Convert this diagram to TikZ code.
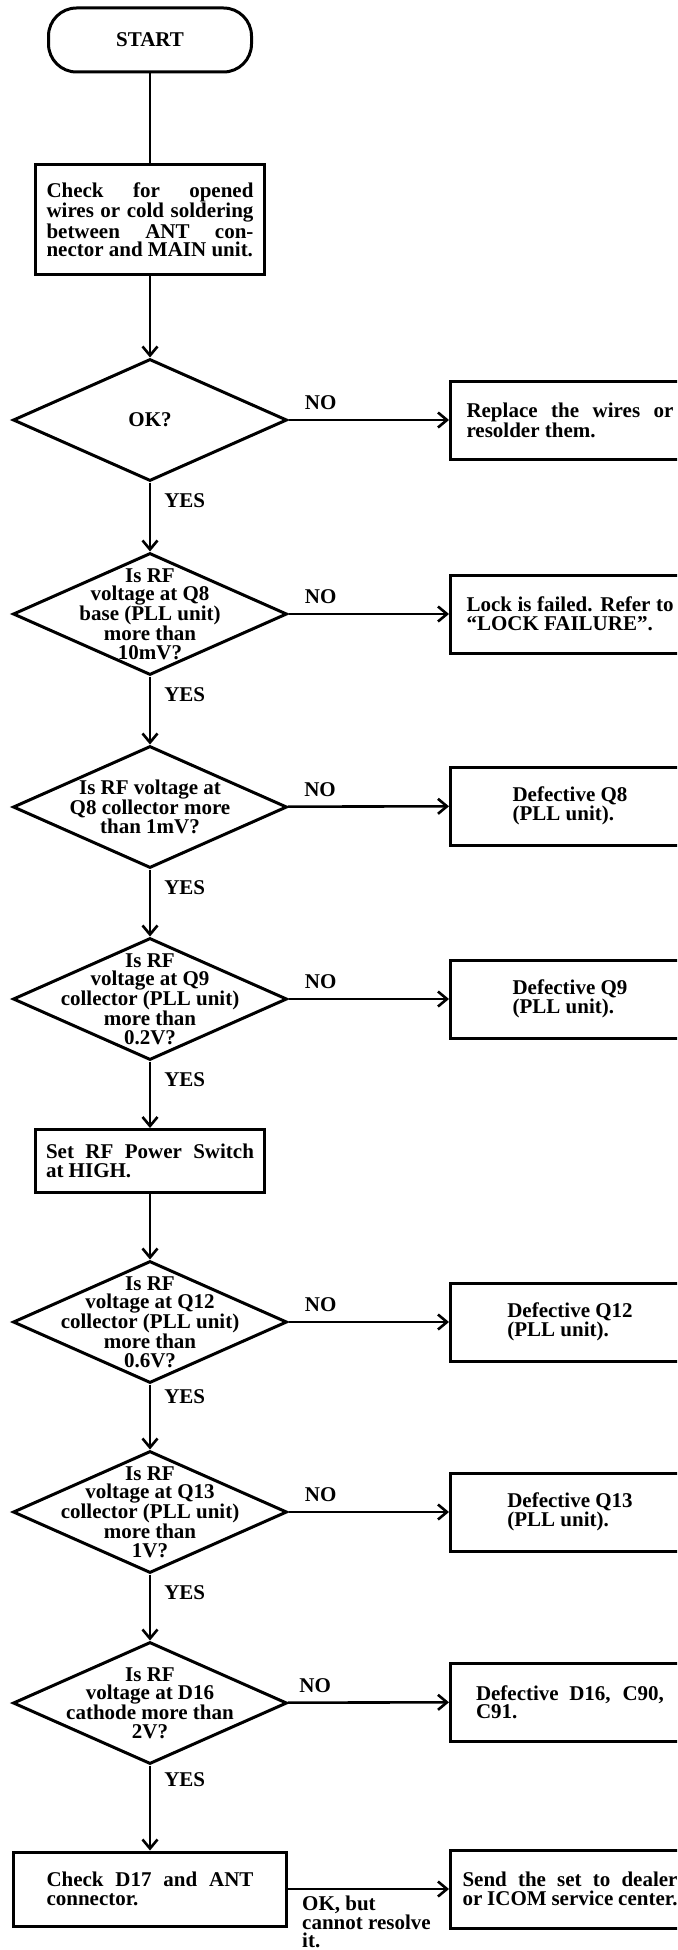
\documentclass[tikz,border=0pt]{standalone}
\usepackage{fontspec}
\setmainfont{Liberation Serif}
\usetikzlibrary{arrows.meta,shapes.geometric}
\hyphenpenalty=10000
\newcommand\chfont{\fontsize{21}{18.5}\selectfont\bfseries}
\tikzset{term/.style={draw,line width=3pt,rounded corners=28pt,minimum width=203pt,minimum height=64pt},
 r/.style={draw,line width=3pt,inner sep=0pt,align=justify},
 rep/.style={r,minimum width=239pt,minimum height=78pt,align=left},
 dec/.style={draw,diamond,line width=3pt,minimum width=274pt,minimum height=122pt,inner sep=0pt},
 dtxt/.style={align=center,inner sep=0pt},
 wire/.style={line width=2.6pt},arr/.style={wire,-{Straight Barb[length=9pt,width=15pt]}},
 yes/.style={pos=.27,right=13pt,inner sep=0pt},no/.style={pos=.2,above=9pt,inner sep=0pt},
 every node/.style={font=\chfont}}
\begin{document}
\begin{tikzpicture}[x=1pt,y=-1pt]
\useasboundingbox (0,0) rectangle (677,1950);\clip (0,0) rectangle (677,1950);
\node[term] (st) at (150,40) {START};
\node[r,text width=207pt,minimum width=229pt,minimum height=110pt] (chk) at (150,220) {Check for opened\linebreak wires or cold soldering\linebreak between ANT con-\linebreak nector and MAIN unit.};
\node[dec,label={[dtxt]center:OK?}] (ok) at (150,420) {};
\node[dec,label={[dtxt]center:{Is RF\\voltage at Q8\\base (PLL unit)\\more than\\10mV?}}] (q8b) at (150,614) {};
\node[dec,label={[dtxt]center:{Is RF voltage at\\Q8 collector more\\than 1mV?}}] (q8c) at (150,807) {};
\node[dec,label={[dtxt]center:{Is RF\\voltage at Q9\\collector (PLL unit)\\more than\\0.2V?}}] (q9) at (150,999) {};
\node[r,text width=208pt,minimum width=229pt,minimum height=63pt] (pw) at (150,1161) {Set RF Power Switch\linebreak at HIGH.};
\node[dec,label={[dtxt]center:{Is RF\\voltage at Q12\\collector (PLL unit)\\more than\\0.6V?}}] (q12) at (150,1322) {};
\node[dec,label={[dtxt]center:{Is RF\\voltage at Q13\\collector (PLL unit)\\more than\\1V?}}] (q13) at (150,1512) {};
\node[dec,label={[dtxt]center:{Is RF\\voltage at D16\\cathode more than\\2V?}}] (d16) at (150,1703) {};
\node[r,text width=207pt,minimum width=273pt,minimum height=74pt] (d17) at (150,1889) {Check D17 and ANT\linebreak connector.};
\node[rep,text width=207pt,align=justify] (rw) at (570,420) {Replace the wires or\linebreak resolder them.};
\node[rep,text width=207pt,align=justify] (lf) at (570,614) {Lock is failed. Refer to\linebreak “LOCK FAILURE”.};
\node[rep] (dq8) at (570,806) {Defective Q8\\(PLL unit).};
\node[rep] (dq9) at (570,999) {Defective Q9\\(PLL unit).};
\node[rep] (dq12) at (570,1322) {Defective Q12\\(PLL unit).};
\node[rep] (dq13) at (570,1512) {Defective Q13\\(PLL unit).};
\node[rep,text width=188pt,align=justify] (dd16) at (570,1702) {Defective D16, C90,\linebreak C91.};
\node[rep,text width=215pt,align=justify] (send) at (570,1889) {Send the set to dealer\linebreak or ICOM service center.};
\draw[wire] (st)--(chk);\draw[arr] (chk)--(ok);
\draw[arr] (ok)--node[yes]{YES}(q8b);\draw[arr] (q8b)--node[yes]{YES}(q8c);
\draw[arr] (q8c)--node[yes]{YES}(q9);\draw[arr] (q9)--node[yes]{YES}(pw);
\draw[arr] (pw)--(q12);\draw[arr] (q12)--node[yes,pos=.19]{YES}(q13);
\draw[arr] (q13)--node[yes]{YES}(d16);\draw[arr] (d16)--node[yes,pos=.17]{YES}(d17);
\draw[arr] (ok)--node[no]{NO}(rw);\draw[arr] (q8b)--node[no]{NO}(lf);
\draw[arr] (q8c)--node[no]{NO}(dq8);\draw[arr] (q9)--node[no]{NO}(dq9);
\draw[arr] (q12)--node[no]{NO}(dq12);\draw[arr] (q13)--node[no]{NO}(dq13);
\draw[arr] (d16)--node[no,pos=.17]{NO}(dd16);
\draw[arr] (d17)--node[pos=.08,anchor=north west,yshift=-6pt,align=left,inner sep=0pt]{OK, but\\cannot resolve\\it.}(send);
\end{tikzpicture}
\end{document}
